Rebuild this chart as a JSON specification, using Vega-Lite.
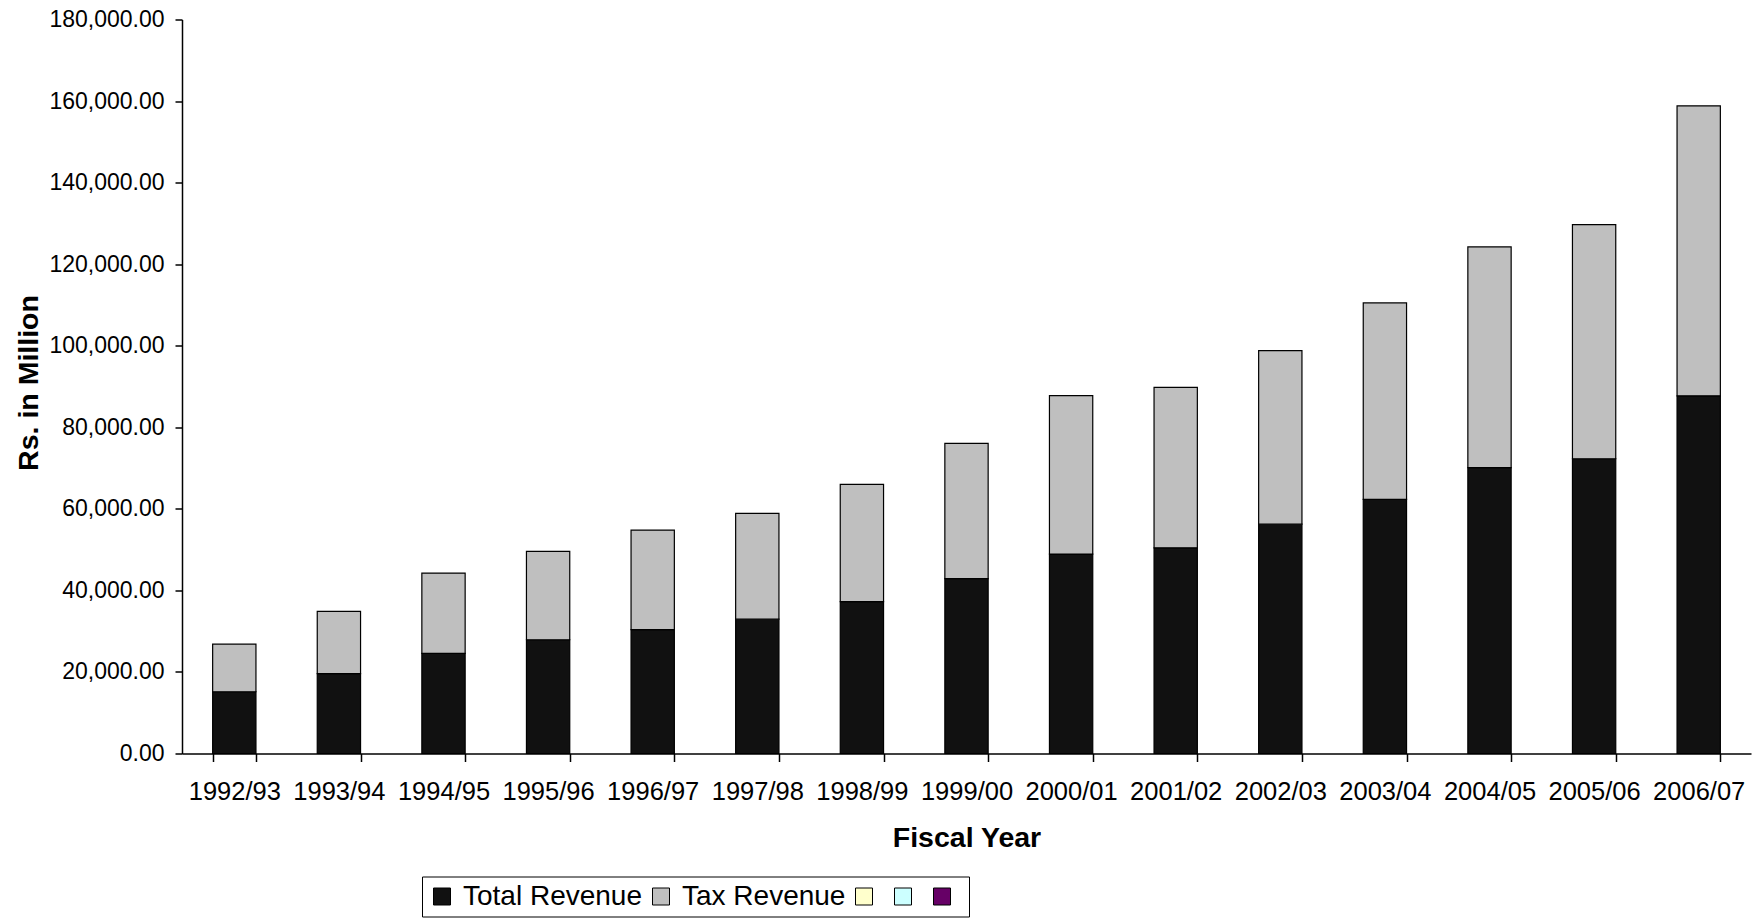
{
  "$schema": "https://vega.github.io/schema/vega-lite/v6.json",
  "width": 1569,
  "height": 734,
  "autosize": {"type": "none"},
  "padding": {"left": 182, "top": 19.5, "right": 7, "bottom": 164.5},
  "background": "white",
  "config": {
    "font": "Liberation Sans",
    "view": {"stroke": null},
    "axis": {
      "grid": false,
      "domainColor": "black",
      "domainWidth": 1.5,
      "tickColor": "black",
      "tickWidth": 1.5,
      "labelColor": "black",
      "titleColor": "black"
    }
  },
  "data": {
    "values": [
      {"year": "1992/93", "series": "Total Revenue", "value": 15148.4},
      {"year": "1992/93", "series": "Tax Revenue", "value": 11662.5},
      {"year": "1993/94", "series": "Total Revenue", "value": 19580.8},
      {"year": "1993/94", "series": "Tax Revenue", "value": 15270.0},
      {"year": "1994/95", "series": "Total Revenue", "value": 24575.0},
      {"year": "1994/95", "series": "Tax Revenue", "value": 19660.0},
      {"year": "1995/96", "series": "Total Revenue", "value": 27893.1},
      {"year": "1995/96", "series": "Tax Revenue", "value": 21668.0},
      {"year": "1996/97", "series": "Total Revenue", "value": 30373.5},
      {"year": "1996/97", "series": "Tax Revenue", "value": 24424.0},
      {"year": "1997/98", "series": "Total Revenue", "value": 32937.9},
      {"year": "1997/98", "series": "Tax Revenue", "value": 25939.8},
      {"year": "1998/99", "series": "Total Revenue", "value": 37251.0},
      {"year": "1998/99", "series": "Tax Revenue", "value": 28752.9},
      {"year": "1999/00", "series": "Total Revenue", "value": 42893.8},
      {"year": "1999/00", "series": "Tax Revenue", "value": 33152.3},
      {"year": "2000/01", "series": "Total Revenue", "value": 48893.6},
      {"year": "2000/01", "series": "Tax Revenue", "value": 38865.1},
      {"year": "2001/02", "series": "Total Revenue", "value": 50445.5},
      {"year": "2001/02", "series": "Tax Revenue", "value": 39330.6},
      {"year": "2002/03", "series": "Total Revenue", "value": 56229.8},
      {"year": "2002/03", "series": "Tax Revenue", "value": 42586.9},
      {"year": "2003/04", "series": "Total Revenue", "value": 62331.0},
      {"year": "2003/04", "series": "Tax Revenue", "value": 48172.9},
      {"year": "2004/05", "series": "Total Revenue", "value": 70122.7},
      {"year": "2004/05", "series": "Tax Revenue", "value": 54104.7},
      {"year": "2005/06", "series": "Total Revenue", "value": 72282.1},
      {"year": "2005/06", "series": "Tax Revenue", "value": 57430.4},
      {"year": "2006/07", "series": "Total Revenue", "value": 87712.1},
      {"year": "2006/07", "series": "Tax Revenue", "value": 71126.7}
    ]
  },
  "mark": {"type": "bar", "stroke": "black", "strokeWidth": 1.2},
  "encoding": {
    "x": {
      "field": "year",
      "type": "ordinal",
      "sort": null,
      "scale": {"paddingInner": 0.586, "paddingOuter": 0.293},
      "axis": {
        "title": "Fiscal Year",
        "labelAngle": 0,
        "labelFontSize": 25.5,
        "labelPadding": 18,
        "labelOverlap": false,
        "tickSize": 8,
        "tickBand": "extent",
        "titleFontSize": 28.5,
        "titleFontWeight": "bold",
        "titlePadding": 18
      }
    },
    "y": {
      "field": "value",
      "type": "quantitative",
      "stack": "zero",
      "scale": {"domain": [0, 180000], "nice": false},
      "axis": {
        "title": "Rs. in Million",
        "values": [0, 20000, 40000, 60000, 80000, 100000, 120000, 140000, 160000, 180000],
        "format": ",.2f",
        "labelFontSize": 23,
        "labelPadding": 11,
        "tickSize": 7,
        "titleFontSize": 28.5,
        "titleFontWeight": "bold",
        "titleAngle": -90,
        "titleBaseline": "middle",
        "titleX": -154,
        "titleY": 363
      }
    },
    "color": {
      "field": "series",
      "type": "nominal",
      "scale": {
        "domain": ["Total Revenue", "Tax Revenue", "s3", "s4", "s5"],
        "range": ["#111111", "#bfbfbf", "#ffffcc", "#ccffff", "#660066"]
      },
      "legend": {
        "title": null,
        "orient": "none",
        "legendX": 240,
        "legendY": 857,
        "direction": "horizontal",
        "columns": 5,
        "symbolType": "square",
        "symbolSize": 289,
        "symbolStrokeColor": "black",
        "symbolStrokeWidth": 1,
        "symbolOpacity": 1,
        "labelFontSize": 28,
        "labelColor": "black",
        "labelOffset": 7,
        "labelLimit": 0,
        "columnPadding": 4,
        "padding": 6,
        "strokeColor": "black",
        "fillColor": "white",
        "labelExpr": "indexof(datum.label, 'Revenue') >= 0 ? datum.label : ''"
      }
    },
    "order": {"field": "series", "sort": "descending"}
  }
}
